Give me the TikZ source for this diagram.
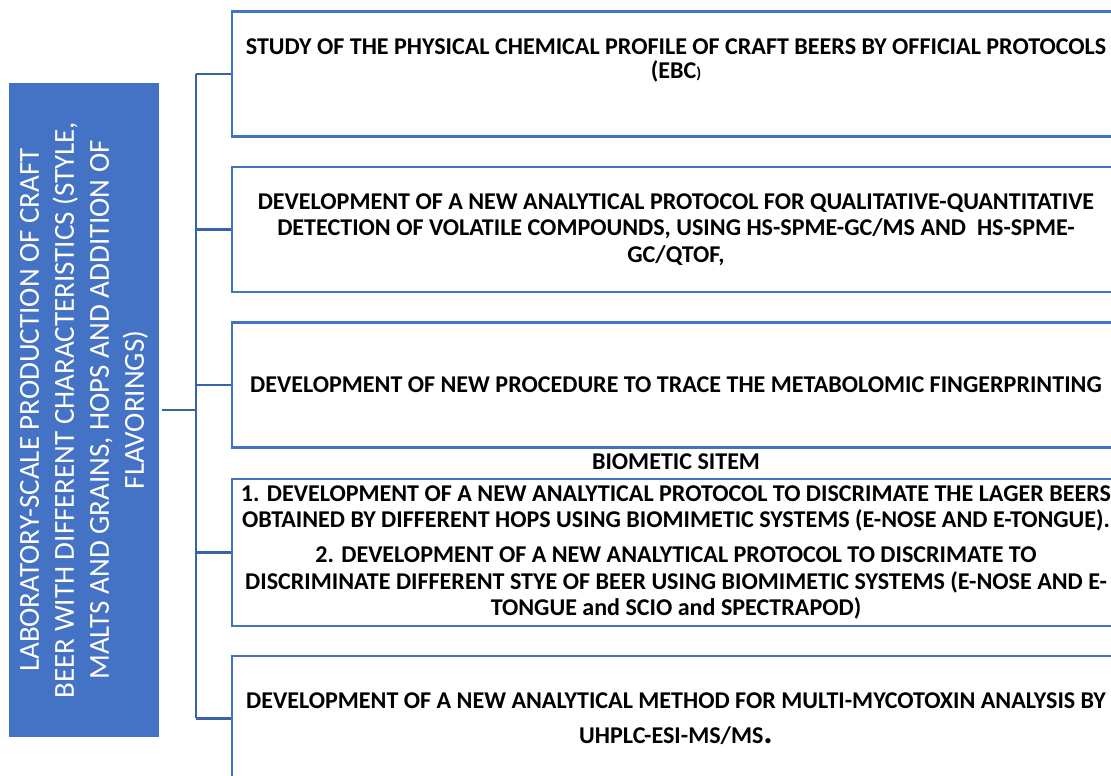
\documentclass[tikz,border=0pt]{standalone}
\usepackage{fontspec}
\setmainfont{Carlito}
\usetikzlibrary{positioning}
\definecolor{officeblue}{HTML}{4472C4}
\definecolor{linkblue}{HTML}{3A62AC}

\begin{document}
\begin{tikzpicture}[x=0.02cm,y=-0.02cm,node distance=3.11cm,on grid,
   task/.style={draw=officeblue,line width=1.3pt,minimum width=17.76cm,minimum height=2.5cm,
     align=center,inner sep=0pt,font=\fontsize{13.7}{15}\selectfont\bfseries},
   link/.style={draw=linkblue,line width=1.3pt}]
   \useasboundingbox (0,0) rectangle (1111,775);
   \clip (0,0) rectangle (1111,775);
   \node[fill=officeblue,text=white,rotate=90,minimum width=13.08cm,minimum height=3cm,
     align=center,font=\fontsize{16.5}{19.9}\selectfont] (prod) at (84,410)
     {LABORATORY-SCALE PRODUCTION OF CRAFT\\BEER WITH DIFFERENT CHARACTERISTICS (STYLE,\\
      MALTS AND GRAINS, HOPS AND ADDITION OF\\FLAVORINGS)};
   \node[task] (ebc) at (676,74) {};
   \node[anchor=north,align=center,inner sep=0pt,font=\fontsize{13.7}{14.2}\selectfont\bfseries]
     (ebctext) at ([yshift=-0.55cm]ebc.north)
     {STUDY OF THE PHYSICAL CHEMICAL PROFILE OF CRAFT BEERS BY OFFICIAL PROTOCOLS\\
      (EBC{\fontsize{9}{9}\selectfont)}};
   \node[task] (voc) [below=of ebc]
     {DEVELOPMENT OF A NEW ANALYTICAL PROTOCOL FOR QUALITATIVE-QUANTITATIVE\\
      DETECTION OF VOLATILE COMPOUNDS, USING HS-SPME-GC/MS AND\ \ HS-SPME-\\GC/QTOF,};
   \node[task] (meta) [below=of voc]
     {DEVELOPMENT OF NEW PROCEDURE TO TRACE THE METABOLOMIC FINGERPRINTING};
   \node[font=\fontsize{13.7}{15}\selectfont\bfseries,inner sep=0pt] (biolabel)
     at ([yshift=-0.26cm]meta.south) {BIOMETIC SITEM};
   \node[task,minimum height=2.94cm] (bio) [below=3.35cm of meta]
     {1. DEVELOPMENT OF A NEW ANALYTICAL PROTOCOL TO DISCRIMATE THE LAGER BEERS\\
      OBTAINED BY DIFFERENT HOPS USING BIOMIMETIC SYSTEMS (E-NOSE AND E-TONGUE).\\[0.17cm]
      2. DEVELOPMENT OF A NEW ANALYTICAL PROTOCOL TO DISCRIMATE TO\\
      DISCRIMINATE DIFFERENT STYE OF BEER USING BIOMIMETIC SYSTEMS (E-NOSE AND E-\\
      TONGUE and SCIO and SPECTRAPOD)};
   \node[task] (myco) [below=3.32cm of bio]
     {DEVELOPMENT OF A NEW ANALYTICAL METHOD FOR MULTI-MYCOTOXIN ANALYSIS BY\\[0.17cm]
      UHPLC-ESI-MS/MS{\fontsize{20}{15}\selectfont.}};
   % trunk and branches
   \coordinate[left=0.7cm of ebc.west] (ttop);
   \coordinate[left=0.7cm of myco.west] (tbot);
   \draw[link] (ttop) -- (tbot);
   \foreach \b in {ebc,voc,meta,bio,myco}
     \draw[link] (\b.west) -- (\b.west -| ttop);
   \draw[link,shorten <=1.5pt] (prod.south) -- (prod.south -| ttop);
\end{tikzpicture}
\end{document}
